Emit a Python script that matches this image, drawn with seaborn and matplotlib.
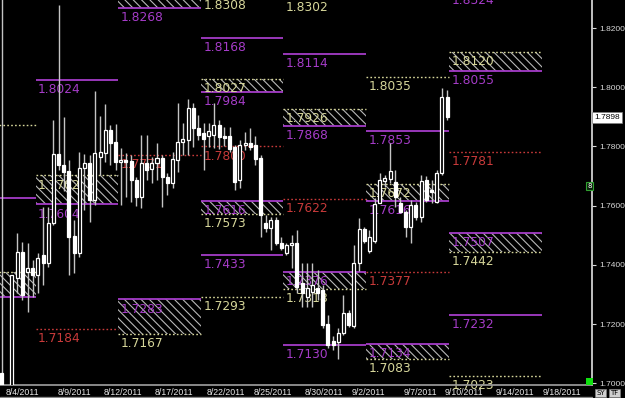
import numpy as np
import pandas as pd
import matplotlib
matplotlib.use("Agg")
import matplotlib.pyplot as plt
import seaborn as sns
from matplotlib.patches import Rectangle
from matplotlib.lines import Line2D

# ---------------- data ----------------
opens = [1.7035, np.nan, 1.6900, 1.7355, 1.7443, 1.7376, 1.7389, 1.7366, 1.7433, 1.7406,
         1.7541, 1.7774, 1.7737, 1.7717, 1.7497, 1.7440, 1.7727, 1.7744, 1.7619, 1.7764,
         1.7778, 1.7855, 1.7815, 1.7747, 1.7754, 1.7751, 1.7686, 1.7629, 1.7744, 1.7724,
         1.7744, 1.7761, 1.7697, 1.7676, 1.7754, 1.7815, 1.7822, 1.7930, 1.7862, 1.7845,
         1.7835, 1.7838, 1.7872, 1.7835, 1.7835, 1.7798, 1.7686, 1.7805, 1.7811, 1.7805,
         1.7761, 1.7541, 1.7524, 1.7551, 1.7474, 1.7440, 1.7467, 1.7474, 1.7339, 1.7291,
         1.7308, 1.7322, 1.7315, 1.7200, 1.7143, 1.7139, 1.7170, 1.7237, 1.7193, 1.7406,
         1.7521, 1.7447, 1.7480, 1.7609, 1.7683, 1.7690, 1.7680, 1.7609, 1.7578, 1.7528,
         1.7602, 1.7561, 1.7686, 1.7653, 1.7612, 1.7710, 1.7967]
highs = [1.8400, np.nan, 1.7366, 1.7507, 1.7477, 1.7474, 1.7416, 1.7440, 1.7595, 1.7595,
         1.7889, 1.8278, 1.7899, 1.7754, 1.7551, 1.7781, 1.7774, 1.7771, 1.7987, 1.7903,
         1.7943, 1.7872, 1.7876, 1.7795, 1.7778, 1.7771, 1.7697, 1.7839, 1.7839, 1.7764,
         1.7811, 1.7771, 1.7710, 1.7781, 1.7947, 1.7879, 1.7960, 1.7947, 1.7906, 1.7879,
         1.7879, 1.7947, 1.7889, 1.7866, 1.7866, 1.7805, 1.7822, 1.7849, 1.7862, 1.7835,
         1.7771, 1.7568, 1.7561, 1.7561, 1.7494, 1.7474, 1.7501, 1.7518, 1.7406, 1.7406,
         1.7406, 1.7382, 1.7332, 1.7230, 1.7159, 1.7186, 1.7298, 1.7247, 1.7467, 1.7558,
         1.7528, 1.7518, 1.7626, 1.7710, 1.7703, 1.7811, 1.7720, 1.7629, 1.7585, 1.7619,
         1.7612, 1.7703, 1.7700, 1.7686, 1.7720, 1.7997, 1.7991]
lows = [1.6900, np.nan, 1.6900, 1.7305, 1.7281, 1.7241, 1.7291, 1.7305, 1.7332, 1.7392,
        1.7534, 1.7720, 1.7650, 1.7366, 1.7372, 1.7426, 1.7585, 1.7545, 1.7602, 1.7703,
        1.7747, 1.7737, 1.7720, 1.7602, 1.7629, 1.7612, 1.7598, 1.7592, 1.7686, 1.7676,
        1.7686, 1.7595, 1.7636, 1.7659, 1.7714, 1.7771, 1.7771, 1.7798, 1.7822, 1.7720,
        1.7798, 1.7795, 1.7790, 1.7801, 1.7781, 1.7653, 1.7659, 1.7788, 1.7788, 1.7737,
        1.7494, 1.7511, 1.7450, 1.7467, 1.7450, 1.7433, 1.7389, 1.7305, 1.7257, 1.7257,
        1.7257, 1.7281, 1.7186, 1.7119, 1.7112, 1.7082, 1.7163, 1.7190, 1.7186, 1.7379,
        1.7474, 1.7440, 1.7474, 1.7609, 1.7663, 1.7676, 1.7595, 1.7575, 1.7494, 1.7474,
        1.7551, 1.7545, 1.7612, 1.7609, 1.7609, 1.7703, 1.7889]
closes = [1.6950, np.nan, 1.7366, 1.7443, 1.7298, 1.7389, 1.7366, 1.7423, 1.7406, 1.7541,
          1.7774, 1.7737, 1.7714, 1.7494, 1.7440, 1.7727, 1.7744, 1.7619, 1.7778, 1.7781,
          1.7855, 1.7811, 1.7747, 1.7754, 1.7747, 1.7686, 1.7629, 1.7744, 1.7720, 1.7744,
          1.7761, 1.7697, 1.7676, 1.7757, 1.7815, 1.7825, 1.7930, 1.7862, 1.7839, 1.7825,
          1.7852, 1.7872, 1.7832, 1.7828, 1.7791, 1.7680, 1.7805, 1.7811, 1.7798, 1.7757,
          1.7568, 1.7524, 1.7551, 1.7474, 1.7457, 1.7467, 1.7474, 1.7325, 1.7305, 1.7322,
          1.7332, 1.7305, 1.7197, 1.7129, 1.7129, 1.7170, 1.7237, 1.7197, 1.7406, 1.7521,
          1.7480, 1.7494, 1.7605, 1.7686, 1.7693, 1.7717, 1.7630, 1.7578, 1.7528, 1.7602,
          1.7561, 1.7683, 1.7619, 1.7646, 1.7710, 1.7967, 1.7898]

last_price = 1.7898

# weekly segments (in bar-index units)
seg_starts = [-12.0, 6.6, 22.5, 38.5, 54.4, 70.4, 86.4]
seg_ends = [6.6, 22.5, 38.5, 54.4, 70.4, 86.4, 104.3]

# single level lines: segment, price, kind (P=purple solid, Y=yellow dotted, R=red dotted)
line_seg = [0, 0, 1, 1, 2, 3, 3, 3, 3, 3, 4, 4, 4, 4, 5, 5, 5, 6, 6, 6, 6]
line_price = [1.7872, 1.7626, 1.8024, 1.7184, 1.7771,
              1.8308, 1.8168, 1.7800, 1.7433, 1.7293,
              1.8302, 1.8114, 1.7622, 1.7130,
              1.8035, 1.7853, 1.7377,
              1.8324, 1.7781, 1.7232, 1.7023]
line_kind = ["Y", "P", "P", "R", "R",
             "Y", "P", "R", "P", "Y",
             "Y", "P", "R", "P",
             "Y", "P", "R",
             "P", "R", "P", "Y"]

# hatched zones: segment, top price, bottom price, top kind, bottom kind
zone_seg = [0, 1, 2, 2, 3, 3, 4, 4, 5, 5, 6, 6]
zone_top = [1.7376, 1.7702, 1.8340, 1.7283, 1.8027, 1.7616, 1.7926, 1.7376, 1.7672, 1.7134, 1.8120, 1.7507]
zone_bot = [1.7291, 1.7604, 1.8268, 1.7167, 1.7984, 1.7573, 1.7868, 1.7318, 1.7616, 1.7083, 1.8055, 1.7442]
zone_top_kind = ["Y", "Y", "Y", "P", "Y", "P", "Y", "P", "Y", "P", "Y", "P"]
zone_bot_kind = ["P", "P", "P", "Y", "P", "Y", "P", "Y", "P", "Y", "P", "Y"]

date_labels = ["8/4/2011", "8/9/2011", "8/12/2011", "8/17/2011", "8/22/2011", "8/25/2011",
               "8/30/2011", "9/2/2011", "9/7/2011", "9/10/2011", "9/14/2011", "9/18/2011"]
date_pos = [4.1, 14.0, 23.4, 33.3, 43.3, 52.4, 62.2, 70.9, 80.8, 89.3, 99.1, 108.2]

price_ticks = [1.70, 1.72, 1.74, 1.76, 1.78, 1.80, 1.82]

# ---------------- style ----------------
sns.set_theme(style="dark", rc={
    "axes.facecolor": "black", "figure.facecolor": "black",
    "axes.edgecolor": "#c8c8c8", "axes.grid": False,
    "hatch.linewidth": 0.8,
})
plt.rcParams["font.family"] = ["DejaVu Sans"]

PURPLE = "#a53cc8"
YELLOW = "#d6d69a"
RED = "#c83a3a"
colors = {"P": PURPLE, "Y": YELLOW, "R": RED}
styles = {"P": "-", "Y": (0, (1.2, 1.6)), "R": (0, (1.2, 1.6))}
widths = {"P": 1.3, "Y": 1.0, "R": 1.0}

XMIN, XMAX = -0.31, 113.98

W, H = 625, 398
fig = plt.figure(figsize=(W / 100, H / 100), dpi=100)
ax = fig.add_axes([0, 13 / H, 592 / W, 385 / H])
ax.set_facecolor("black")

df = pd.DataFrame({"open": opens, "high": highs, "low": lows, "close": closes})
df["idx"] = np.arange(len(df))
df = df.dropna()

# zones
for s, t, b, tk, bk in zip(zone_seg, zone_top, zone_bot, zone_top_kind, zone_bot_kind):
    x0, x1 = seg_starts[s], seg_ends[s]
    ax.add_patch(Rectangle((x0, b), x1 - x0, t - b, facecolor="none",
                           edgecolor="#b8b8b8", hatch="\\\\\\\\", lw=0, zorder=1))
    for p, k in ((t, tk), (b, bk)):
        ax.hlines(p, x0, x1, colors=colors[k], linestyles=styles[k], lw=widths[k], zorder=2)

# single lines
for s, p, k in zip(line_seg, line_price, line_kind):
    ax.hlines(p, seg_starts[s], seg_ends[s], colors=colors[k], linestyles=styles[k],
              lw=widths[k], zorder=2)

# labels (below each line, at the segment start; only for segments starting on screen)
all_lab = list(zip(line_seg, line_price, line_kind)) + \
    list(zip(zone_seg, zone_top, zone_top_kind)) + list(zip(zone_seg, zone_bot, zone_bot_kind))
for s, p, k in all_lab:
    if seg_starts[s] < XMIN:
        continue
    ax.annotate(f"{p:.4f}", xy=(seg_starts[s], p), xytext=(1.6, -2.2),
                textcoords="offset points", ha="left", va="top", fontsize=8.8,
                color=colors[k], annotation_clip=False, zorder=2.5)

# candles
bw = 0.58
ax.vlines(df["idx"], df["low"], df["high"], colors="#c4c4c4", lw=1.0, zorder=3)
up = df[df["close"] >= df["open"]]
dn = df[df["close"] < df["open"]]
ax.bar(up["idx"], up["close"] - up["open"], bottom=up["open"], width=bw,
       color="black", edgecolor="white", linewidth=0.9, zorder=4)
ax.bar(dn["idx"], dn["open"] - dn["close"], bottom=dn["close"], width=bw,
       color="white", edgecolor="white", linewidth=0.9, zorder=4)

# axes
ax.set_xlim(XMIN, XMAX)
ax.set_ylim(1.6994, 1.8295)
for side in ("top", "left"):
    ax.spines[side].set_visible(False)
ax.spines["right"].set_color("#d8d8d8")
ax.spines["bottom"].set_color("#9a9a9a")
ax.yaxis.tick_right()
ax.set_yticks(price_ticks)
ax.set_yticklabels([f"{v:.4f}" for v in price_ticks], fontsize=6,
                   family=["Liberation Sans", "DejaVu Sans"])
ax.tick_params(axis="y", colors="#d8d8d8", length=3, width=0.8, pad=2)
ax.set_xticks(date_pos)
ax.set_xticklabels(date_labels, fontsize=6.3, family=["Liberation Sans Narrow", "Liberation Sans", "DejaVu Sans"])
ax.tick_params(axis="x", colors="#e8e8e8", length=0, pad=2)

# last price tag
ax.text(1.004, last_price, f"{last_price:.4f}", transform=ax.get_yaxis_transform(),
        ha="left", va="center", fontsize=6, color="black",
        family=["Liberation Sans", "DejaVu Sans"],
        bbox=dict(facecolor="white", edgecolor="#808080", pad=1.6, lw=0.5), clip_on=False)

# small widgets
fig.add_artist(Rectangle((586 / W, (H - 385) / H), 7 / W, 7 / H, transform=fig.transFigure,
                         facecolor="#10e010", edgecolor="none"))
fig.text(589.5 / W, 1 - 186 / H, "8", fontsize=5, color="white", ha="center", va="center",
         bbox=dict(facecolor="#0a200a", edgecolor="#30a030", pad=0.6, lw=0.8))
fig.text(600.5 / W, 1 - 393 / H, "SY", fontsize=5, color="black", ha="center", va="center",
         bbox=dict(facecolor="#d0d0d0", edgecolor="#808080", pad=0.8, lw=0.5))
fig.text(614.5 / W, 1 - 393 / H, "TF", fontsize=5, color="black", ha="center", va="center",
         bbox=dict(facecolor="#d0d0d0", edgecolor="#808080", pad=0.8, lw=0.5))
fig.add_artist(Line2D([0, 592 / W], [1.5 / H, 1.5 / H], transform=fig.transFigure,
                      color="#8a8a8a", lw=1))

fig.savefig("out.png", dpi=100, facecolor="black")
